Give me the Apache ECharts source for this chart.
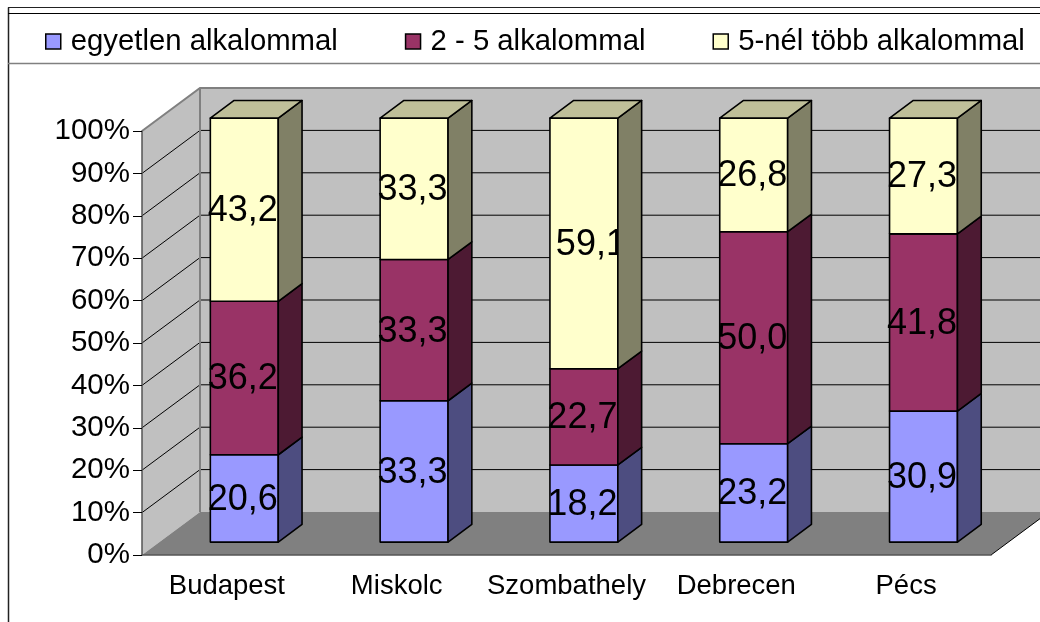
<!DOCTYPE html>
<html style="height: 100%">
<head>
<meta charset="utf-8">
<style>html,body{margin:0;height:100%;background:#fff}#container{width:1040px;height:622px}</style>
</head>
<body>
<div id="container"></div>
<script src="https://cdn.jsdelivr.net/npm/echarts@6/dist/echarts.min.js"></script>
<script>
var categories = ['Budapest', 'Miskolc', 'Szombathely', 'Debrecen', 'Pécs'];
var egyetlen = [20.6, 33.3, 18.2, 23.2, 30.9];
var ketOt = [36.2, 33.3, 22.7, 50.0, 41.8];
var tobb = [43.2, 33.3, 59.1, 26.8, 27.3];
var seriesNames = ['egyetlen alkalommal', '2 - 5 alkalommal', '5-nél több alkalommal'];
var yTicks = [0, 10, 20, 30, 40, 50, 60, 70, 80, 90, 100];

var frontColors = ['#9999ff', '#993366', '#ffffcc'];
var sideColors = ['#4d4d80', '#4d1a33', '#808066'];
var capColor = '#bfbf99';
var FONT = '"Liberation Sans", Arial, sans-serif';

// 3d look: the box depth in pixels, front plane of the axes -> back wall
var depthX = 58, depthY = -43;
var barFront = 0.30, barBack = 0.71;

var valueLists = [egyetlen, ketOt, tobb];

function shift(p, d) {
    return [p[0] + depthX * d, p[1] + depthY * d];
}

function makeStack(s) {
    var rows = [];
    categories.forEach(function (c, i) {
        var total = egyetlen[i] + ketOt[i] + tobb[i];
        var base = 0;
        for (var k = 0; k < s; k++) base += valueLists[k][i];
        rows.push([i, base / total * 100, (base + valueLists[s][i]) / total * 100, valueLists[s][i]]);
    });
    return rows;
}

function renderBar(s) {
    return function (params, api) {
        var i = api.value(0);
        var bw = api.size([1, 0])[0] * 0.4;
        var lo = api.coord([i, api.value(1)]);
        var hi = api.coord([i, api.value(2)]);
        var bl = shift([lo[0] - bw / 2, lo[1]], barFront);
        var br = shift([lo[0] + bw / 2, lo[1]], barFront);
        var tl = shift([lo[0] - bw / 2, hi[1]], barFront);
        var tr = shift([lo[0] + bw / 2, hi[1]], barFront);
        var d = barBack - barFront;
        var line = {stroke: '#000', lineWidth: 1.6, lineJoin: 'round'};
        // the 59,1 label sits off centre in the original and runs under the side face
        var labelDx = (s === 2 && i === 2) ? 7 : -1.5;
        var kids = [{
            type: 'polygon',
            shape: {points: [bl, br, tr, tl]},
            style: Object.assign({fill: frontColors[s]}, line)
        }, {
            type: 'text',
            style: {
                x: (bl[0] + br[0]) / 2 + labelDx,
                y: (bl[1] + tl[1]) / 2 + 1.5,
                text: api.value(3).toFixed(1).replace('.', ','),
                fill: '#000',
                font: '36px ' + FONT,
                align: 'center',
                verticalAlign: 'middle'
            }
        }, {
            type: 'polygon',
            shape: {points: [br, shift(br, d), shift(tr, d), tr]},
            style: Object.assign({fill: sideColors[s]}, line)
        }];
        if (s === 2) {
            kids.push({
                type: 'polygon',
                shape: {points: [tl, tr, shift(tr, d), shift(tl, d)]},
                style: Object.assign({fill: capColor}, line)
            });
        }
        return {type: 'group', children: kids};
    };
}

function renderWalls(params, api) {
    var half = api.size([1, 0])[0] / 2;
    var x0 = api.coord([0, 0])[0] - half;
    var x1 = api.coord([categories.length - 1, 0])[0] + half;
    var y0 = api.coord([0, 0])[1];
    var y1 = api.coord([0, 100])[1];
    var grey = {stroke: '#808080', lineWidth: 2};
    var kids = [
        {type: 'polygon', shape: {points: [[x0, y0], [x0, y1], shift([x0, y1], 1), shift([x0, y0], 1)]}, style: {fill: '#c0c0c0'}},
        {type: 'polygon', shape: {points: [shift([x0, y0], 1), shift([x0, y1], 1), shift([x1, y1], 1), shift([x1, y0], 1)]}, style: {fill: '#c0c0c0'}},
        {type: 'polygon', shape: {points: [[x0, y0], [x1, y0], shift([x1, y0], 1), shift([x0, y0], 1)]}, style: {fill: '#808080'}}
    ];
    yTicks.slice(1, -1).forEach(function (t) {
        var y = api.coord([0, t])[1];
        kids.push({
            type: 'polyline',
            shape: {points: [[x0, y], shift([x0, y], 1), shift([x1, y], 1)]},
            style: {stroke: '#000', lineWidth: 1, fill: null}
        });
    });
    kids.push(
        {type: 'polyline', shape: {points: [[x0, y1], shift([x0, y1], 1), shift([x1, y1], 1)]}, style: Object.assign({fill: null}, grey)},
        {type: 'line', shape: {x1: x0 + depthX, y1: y0 + depthY, x2: x0 + depthX, y2: y1 + depthY}, style: grey},
        {type: 'line', shape: {x1: x1, y1: y0, x2: x1 + depthX, y2: y0 + depthY}, style: {stroke: '#000', lineWidth: 1}}
    );
    return {type: 'group', children: kids};
}

var myChart = echarts.init(document.getElementById('container'), null, {renderer: 'canvas'});

var series = [{
    name: 'falak',
    type: 'custom',
    coordinateSystem: 'cartesian2d',
    renderItem: renderWalls,
    data: [[0, 0]],
    silent: true,
    z: 1
}];
seriesNames.forEach(function (name, s) {
    series.push({
        name: name,
        type: 'custom',
        coordinateSystem: 'cartesian2d',
        renderItem: renderBar(s),
        itemStyle: {color: frontColors[s], borderColor: '#000', borderWidth: 1.5},
        encode: {x: 0, y: 2},
        data: makeStack(s),
        z: 2 + s
    });
});

var option = {
    animation: false,
    backgroundColor: '#fff',
    textStyle: {fontFamily: FONT},
    grid: {left: 142, right: 49, top: 131, bottom: 67},
    legend: {
        data: seriesNames,
        left: 40,
        top: 22,
        icon: 'rect',
        itemWidth: 15,
        itemHeight: 15,
        itemGap: 67,
        textStyle: {fontSize: 29.3, fontFamily: FONT, color: '#000', padding: [0, 0, 0, 5]},
        itemStyle: {borderColor: '#000', borderWidth: 1.5},
        selectedMode: false
    },
    xAxis: {
        type: 'category',
        data: categories,
        axisLine: {lineStyle: {color: '#555', width: 1.5}},
        axisTick: {length: 6, lineStyle: {color: '#444'}},
        axisLabel: {interval: 0, margin: 17, fontSize: 27.5, color: '#000', fontFamily: FONT},
        z: 10
    },
    yAxis: {
        type: 'value',
        min: 0,
        max: 100,
        interval: 10,
        axisLine: {show: true, lineStyle: {color: '#555', width: 1.5}},
        axisTick: {show: true, length: 9, lineStyle: {color: '#000'}},
        axisLabel: {margin: 12, fontSize: 29.5, color: '#000', fontFamily: FONT, formatter: '{value}%', lineHeight: 34, padding: [4, 0, 0, 0], verticalAlign: 'middle'},
        splitLine: {show: false},
        z: 10
    },
    graphic: [
        {type: 'line', shape: {x1: 8.5, y1: 7.5, x2: 8.5, y2: 622}, style: {stroke: '#222', lineWidth: 1.5}, z: 20},
        {type: 'line', shape: {x1: 8, y1: 7.5, x2: 1040, y2: 7.5}, style: {stroke: '#222', lineWidth: 1}, z: 20},
        {type: 'line', shape: {x1: 8, y1: 13.5, x2: 1040, y2: 13.5}, style: {stroke: '#000', lineWidth: 1}, z: 20},
        {type: 'line', shape: {x1: 8, y1: 63.5, x2: 1040, y2: 63.5}, style: {stroke: '#808080', lineWidth: 1.5}, z: 20}
    ],
    series: series
};
myChart.setOption(option);
</script>
</body>
</html>
